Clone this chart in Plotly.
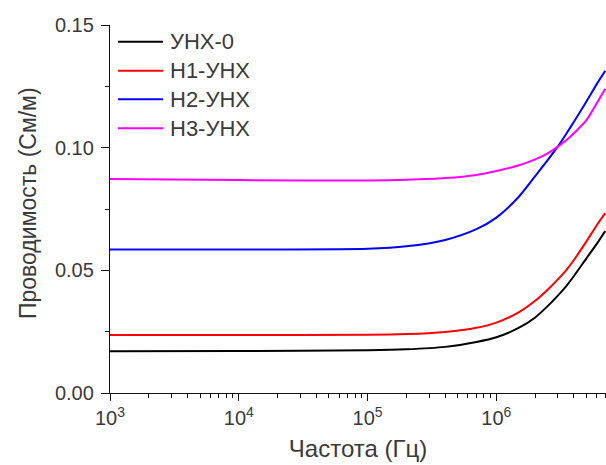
import plotly.graph_objects as go

# Frequency grid (Hz) shared by all samples
freq = [1e3, 1e4, 1e5, 2e5, 4e5, 7e5, 1e6, 1.5e6, 2e6, 2.5e6, 3e6, 3.5e6, 4e6, 5e6, 6e6, 7e6]

# Conductivity (S/m) for each sample
unh0 = [0.0170, 0.0171, 0.0174, 0.0178, 0.0188, 0.0208, 0.0227, 0.0266, 0.0308, 0.0354,
        0.0397, 0.0437, 0.0477, 0.0549, 0.0607, 0.0660]
h1_unh = [0.0236, 0.0236, 0.0237, 0.0240, 0.0249, 0.0266, 0.0287, 0.0330, 0.0376, 0.0421,
          0.0463, 0.0502, 0.0542, 0.0618, 0.0683, 0.0733]
h2_unh = [0.0585, 0.0585, 0.0588, 0.0598, 0.0624, 0.0668, 0.0715, 0.0801, 0.0884, 0.0949,
          0.1005, 0.1058, 0.1106, 0.1188, 0.1258, 0.1313]
h3_unh = [0.0872, 0.0868, 0.0866, 0.0869, 0.0876, 0.0889, 0.0905, 0.0928, 0.0952, 0.0977,
          0.1004, 0.1031, 0.1059, 0.1112, 0.1180, 0.1240]

names = ["УНХ-0", "H1-УНХ", "H2-УНХ", "H3-УНХ"]
series = [unh0, h1_unh, h2_unh, h3_unh]
colors = ["#000000", "#ff0000", "#0000ff", "#ff00ff"]

x_ticks = [1e3, 1e4, 1e5, 1e6]
x_ticktext = ["10<sup>3</sup>", "10<sup>4</sup>", "10<sup>5</sup>", "10<sup>6</sup>"]
x_minor = [m * 10 ** e for e in range(3, 7) for m in range(2, 10)]
y_ticks = [0.00, 0.05, 0.10, 0.15]
y_ticktext = ["0.00", "0.05", "0.10", "0.15"]

FONT = "Arial, Liberation Sans, sans-serif"
TXT = "#3a3a3a"

fig = go.Figure()
for name, vals, col in zip(names, series, colors):
    fig.add_trace(go.Scatter(x=freq, y=vals, mode="lines", name=name,
                             line=dict(color=col, width=2, shape="spline", smoothing=0.7),
                             showlegend=False))

# plot area geometry in pixels
L, T, W, H = 110, 25, 496, 368

def px_x(p):
    return (p - L) / W

def px_y(p):
    return (T + H - p) / H

# legend drawn as sample lines plus labels
leg_y = [41.7, 70.7, 99.3, 128.3]
for name, col, yy in zip(names, colors, leg_y):
    fig.add_shape(type="line", xref="paper", yref="paper",
                  x0=px_x(118), x1=px_x(163), y0=px_y(yy), y1=px_y(yy),
                  line=dict(color=col, width=2))
    fig.add_annotation(x=px_x(168), y=px_y(yy), xref="paper", yref="paper",
                       text=name, showarrow=False, xanchor="left", yanchor="middle",
                       font=dict(family=FONT, size=22, color=TXT))

# y-axis title
fig.add_annotation(x=px_x(28), y=px_y(203), xref="paper", yref="paper",
                   text="Проводимость (См/м)", textangle=-90, showarrow=False,
                   xanchor="center", yanchor="middle",
                   font=dict(family=FONT, size=23, color=TXT))

fig.update_layout(
    width=606, height=465,
    margin=dict(l=L, r=0, t=T, b=465 - T - H),
    paper_bgcolor="white", plot_bgcolor="white",
    font=dict(family=FONT, color=TXT),
)
fig.update_xaxes(
    type="log", range=[3, 6.851],
    tickvals=x_ticks, ticktext=x_ticktext,
    ticks="outside", ticklen=7, tickwidth=1.3, tickcolor="#111",
    minor=dict(tickvals=x_minor, ticks="outside", ticklen=4, tickwidth=1.2, tickcolor="#111", showgrid=False),
    showline=True, linecolor="#111", linewidth=1.3,
    showgrid=False, zeroline=False,
    tickfont=dict(family=FONT, size=20, color=TXT),
    title=dict(text="Частота (Гц)", font=dict(family=FONT, size=24, color=TXT), standoff=12),
)
fig.update_yaxes(
    range=[0, 0.15],
    tickvals=y_ticks, ticktext=y_ticktext,
    ticks="outside", ticklen=8, tickwidth=1.3, tickcolor="#111",
    minor=dict(tickvals=[0.025, 0.075, 0.125], ticks="outside", ticklen=4, tickwidth=1.2, tickcolor="#111", showgrid=False),
    showline=True, linecolor="#111", linewidth=1.3,
    showgrid=False, zeroline=False,
    tickfont=dict(family=FONT, size=20, color=TXT),
    ticklabelstandoff=3,
)

fig.write_html("out.html")
